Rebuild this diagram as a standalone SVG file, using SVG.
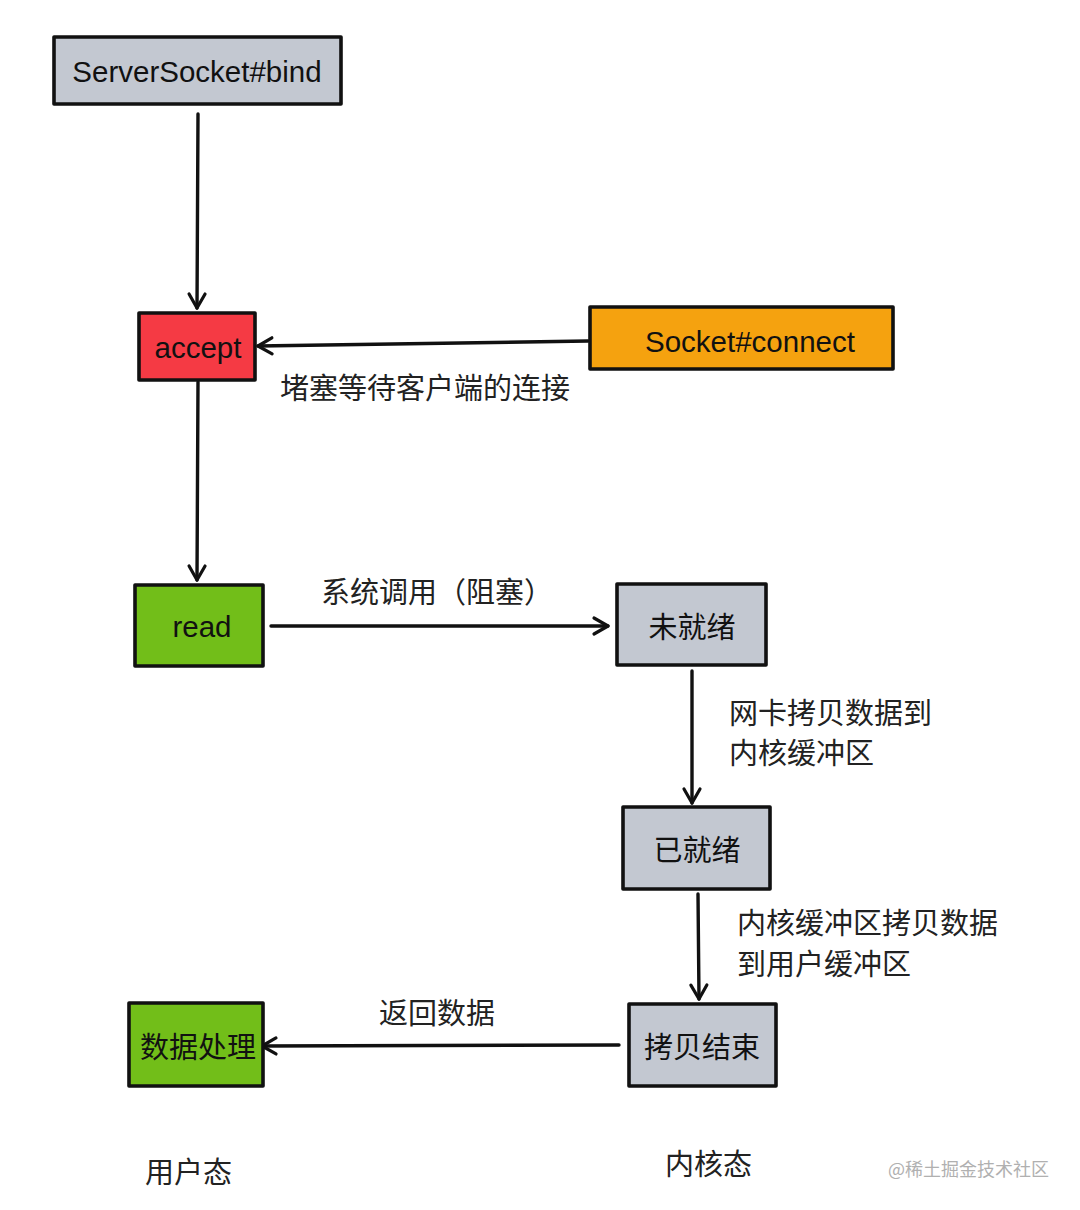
<svg xmlns="http://www.w3.org/2000/svg" width="1080" height="1210" viewBox="0 0 1080 1210">
<style>
.box{stroke:#111;stroke-width:3.6;stroke-linejoin:round}
.gray{fill:#c3c8d1}
.red{fill:#f53a44}
.orange{fill:#f5a20f}
.green{fill:#72be19}
.t{font-family:"Liberation Sans","Noto Sans CJK SC",sans-serif;font-size:29.5px;fill:#111;dominant-baseline:central}
.cj{font-family:"Noto Sans CJK SC",sans-serif;font-size:29px;fill:#111;dominant-baseline:central}
.c{text-anchor:middle}
.lbl{font-family:"Noto Sans CJK SC","Liberation Sans",sans-serif;font-size:29px;fill:#222;dominant-baseline:central}
.edge{stroke:#111;stroke-width:3.4;fill:none;stroke-linecap:round}
.wm{font-family:"Noto Sans CJK SC",sans-serif;font-size:18px;fill:#b0b0b0;dominant-baseline:central}
</style>
<defs>
<marker id="arr" markerUnits="userSpaceOnUse" markerWidth="24" markerHeight="24" refX="20" refY="12" orient="auto">
<path d="M6,4 L20,12 L6,20" fill="none" stroke="#111" stroke-width="3.2" stroke-linecap="round" stroke-linejoin="round"/>
</marker>
</defs>
<rect width="1080" height="1210" fill="#fff"/>
<g id="connectors">
<path class="edge" d="M198,114 L197,308" marker-end="url(#arr)"/>
<path class="edge" d="M588,341 L258,346" marker-end="url(#arr)"/>
<path class="edge" d="M198,382 L197,580" marker-end="url(#arr)"/>
<path class="edge" d="M271,626 L608,626" marker-end="url(#arr)"/>
<path class="edge" d="M692,671 L692,803" marker-end="url(#arr)"/>
<path class="edge" d="M698,894 L699,999" marker-end="url(#arr)"/>
<path class="edge" d="M619,1045 L262,1046" marker-end="url(#arr)"/>
</g>
<g id="node-bind"><rect class="box gray" x="54" y="37" width="287" height="67"/><text class="t c" x="197" y="71">ServerSocket#bind</text></g>
<g id="node-accept"><rect class="box red" x="139" y="313" width="116" height="67"/><text class="t c" x="198" y="347">accept</text></g>
<g id="node-connect"><rect class="box orange" x="590" y="307" width="303" height="62"/><text class="t c" x="750" y="341">Socket#connect</text></g>
<g id="node-read"><rect class="box green" x="135" y="585" width="128" height="81"/><text class="t c" x="202" y="626">read</text></g>
<g id="node-notready"><rect class="box gray" x="617" y="584" width="149" height="81"/><text class="cj c" x="692" y="625">未就绪</text></g>
<g id="node-ready"><rect class="box gray" x="623" y="807" width="147" height="82"/><text class="cj c" x="697" y="848">已就绪</text></g>
<g id="node-copydone"><rect class="box gray" x="629" y="1004" width="147" height="82"/><text class="cj c" x="702" y="1045">拷贝结束</text></g>
<g id="node-process"><rect class="box green" x="129" y="1003" width="134" height="83"/><text class="cj c" x="198" y="1045">数据处理</text></g>
<g id="labels">
<text class="lbl" x="280" y="386">堵塞等待客户端的连接</text>
<text class="lbl" x="321" y="590">系统调用（阻塞）</text>
<text class="lbl" x="729" y="711">网卡拷贝数据到</text>
<text class="lbl" x="729" y="751">内核缓冲区</text>
<text class="lbl" x="737" y="921">内核缓冲区拷贝数据</text>
<text class="lbl" x="737" y="962">到用户缓冲区</text>
<text class="lbl" x="379" y="1011">返回数据</text>
<text class="lbl" x="145" y="1170">用户态</text>
<text class="lbl" x="665" y="1162">内核态</text>
<text class="wm" x="888" y="1168">@稀土掘金技术社区</text>
</g>
</svg>
